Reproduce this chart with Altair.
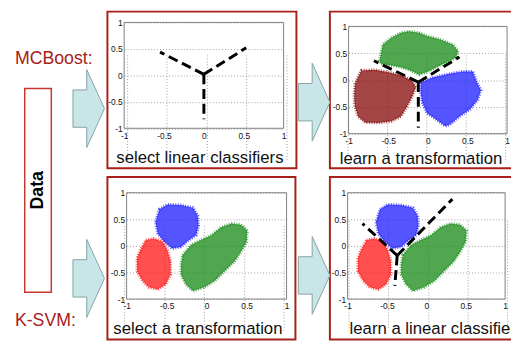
import altair as alt
import pandas as pd

W, H = 511, 338

# ---------------- data (axis units) ----------------
# Panel "learn a transformation" clusters (outlines)
B_green_x = [-0.61, -0.57, -0.46, -0.34, -0.24, -0.11, -0.01, 0.15, 0.32, 0.38, 0.36, 0.24, 0.11, -0.01, -0.11, -0.22, -0.34, -0.46, -0.59]
B_green_y = [0.36, 0.66, 0.79, 0.88, 0.91, 0.88, 0.82, 0.76, 0.66, 0.54, 0.42, 0.33, 0.24, 0.15, 0.10, 0.18, 0.24, 0.27, 0.30]
B_dred_x = [-0.84, -0.67, -0.51, -0.34, -0.20, -0.15, -0.20, -0.26, -0.34, -0.46, -0.63, -0.79, -0.88, -0.92, -0.93, -0.92]
B_dred_y = [0.18, 0.19, 0.15, 0.09, -0.01, -0.13, -0.31, -0.49, -0.68, -0.77, -0.80, -0.79, -0.68, -0.49, -0.31, -0.07]
B_blue_x = [-0.09, 0.07, 0.28, 0.44, 0.57, 0.61, 0.67, 0.63, 0.53, 0.40, 0.28, 0.22, 0.11, -0.01, -0.07, -0.09]
B_blue_y = [-0.04, 0.05, 0.12, 0.16, 0.16, -0.01, -0.19, -0.37, -0.55, -0.68, -0.83, -0.86, -0.74, -0.62, -0.43, -0.25]

# Panels "select a transformation" / "learn a linear classifier" clusters
C_blue_x = [-0.59, -0.49, -0.32, -0.17, -0.11, -0.10, -0.13, -0.22, -0.32, -0.43, -0.53, -0.61, -0.64]
C_blue_y = [0.69, 0.78, 0.77, 0.72, 0.57, 0.38, 0.20, 0.11, -0.02, -0.05, 0.08, 0.23, 0.45]
C_red_x = [-0.76, -0.66, -0.55, -0.49, -0.45, -0.45, -0.51, -0.61, -0.72, -0.80, -0.87, -0.87, -0.83]
C_red_y = [0.11, 0.14, 0.08, -0.08, -0.29, -0.54, -0.72, -0.82, -0.78, -0.66, -0.48, -0.23, -0.08]
C_green_x = [-0.30, -0.19, -0.07, 0.06, 0.18, 0.31, 0.43, 0.51, 0.50, 0.43, 0.35, 0.22, 0.10, -0.03, -0.17, -0.26, -0.32, -0.32]
C_green_y = [-0.17, 0.02, 0.11, 0.20, 0.35, 0.42, 0.40, 0.29, 0.08, -0.11, -0.29, -0.48, -0.66, -0.78, -0.85, -0.72, -0.54, -0.35]

# Linear classifiers (centre, then three arm ends)
A_lines_x = [0.0, -0.55, 0.53, 0.0]
A_lines_y = [0.02, 0.44, 0.52, -0.83]
B_lines_x = [-0.12, -0.68, 0.40, -0.12]
B_lines_y = [-0.04, 0.36, 0.43, -0.89]
D_lines_x = [-0.37, -0.81, 0.33, -0.40]
D_lines_y = [-0.18, 0.42, 0.88, -0.75]

tick_values = [-1, -0.5, 0, 0.5, 1]

# ---------------- texts ----------------
head_texts = ["MCBoost:", "K-SVM:"]
panel_texts = ["select linear classifiers", "learn a transformation",
               "select a transformation", "learn a linear classifier"]

# ---------------- layout (pixels) ----------------
head_pos = [(7, 54), (7, 320)]
panel_text_pos = [(110, 155), (337, 156), (107, 329), (347, 329)]
frames = [(101, 293, 1, 160), (327, 530, 1, 160), (101, 292, 169, 334), (327, 530, 169, 334)]
data_box = (17, 44, 79, 286)
arrow_centres = [(82, 99.5), (82, 272), (311, 93), (311, 269)]
panel_ranges = {
    "A": ([118, 280], [119.5, 12]),
    "B": ([346, 507], [125, 16]),
    "C": ([120.5, 283], [293, 185]),
    "D": ([345, 505], [293, 185]),
}

RED = "#a8201a"
FONT = "Liberation Sans"
ARROW = "M-0.4,-0.475L-0.05,-0.475L-0.05,-0.99L0.4,0L-0.05,0.99L-0.05,0.475L-0.4,0.475Z"


def poly_df(xs, ys):
    return pd.DataFrame({"x": xs, "y": ys, "i": list(range(len(xs)))})


def lines_df(xs, ys):
    rows = []
    for k in range(1, len(xs)):
        rows.append({"x": xs[0], "y": ys[0], "seg": k, "i": 0})
        rows.append({"x": xs[k], "y": ys[k], "seg": k, "i": 1})
    return pd.DataFrame(rows)


def panel(key, polys, lines):
    xr, yr = panel_ranges[key]
    common = dict(values=tick_values, labelExpr="'' + datum.value", ticks=False, domain=False,
                  grid=True, gridDash=[1, 2], gridColor="#8a8a8a", gridWidth=0.8,
                  labelFontSize=8.5, labelColor="#111111", labelFont=FONT,
                  labelFlush=False, labelOverlap=False, title=None)
    xaxis = alt.Axis(orient="bottom", offset=yr[0] - H, labelPadding=3, **common)
    yaxis = alt.Axis(orient="left", offset=-xr[0], labelPadding=2, **common)
    xs = alt.Scale(domain=[-1, 1], range=xr)
    ys = alt.Scale(domain=[-1, 1], range=yr)

    def X(f="x"):
        return alt.X(f + ":Q", scale=xs, axis=xaxis)

    def Y(f="y"):
        return alt.Y(f + ":Q", scale=ys, axis=yaxis)

    layers = []
    frame = pd.DataFrame({"x": [-1], "x2": [1], "y": [-1], "y2": [1]})
    layers.append(alt.Chart(frame).mark_rect(fill="white", stroke="#808080", strokeWidth=1, fillOpacity=0)
                  .encode(x=X(), x2="x2:Q", y=Y(), y2="y2:Q"))
    for xsv, ysv, col in polys:
        layers.append(alt.Chart(poly_df(xsv, ysv)).mark_line(
            interpolate="linear-closed", fill=col, fillOpacity=0.75, stroke=col,
            strokeWidth=3, strokeDash=[1, 1.5], strokeOpacity=0.7)
            .encode(x=X(), y=Y(), order="i:Q"))
    if lines is not None:
        layers.append(alt.Chart(lines_df(*lines)).mark_line(
            color="black", strokeWidth=3, strokeDash=[10, 5])
            .encode(x=X(), y=Y(), detail="seg:N", order="i:Q"))
    return alt.layer(*layers)


GREEN, BLUE, RED_C, DRED = "#168a16", "#1c1cff", "#ff1414", "#850808"

pA = panel("A", [], (A_lines_x, A_lines_y))
pB = panel("B", [(B_green_x, B_green_y, GREEN), (B_dred_x, B_dred_y, DRED), (B_blue_x, B_blue_y, BLUE)],
           (B_lines_x, B_lines_y))
pC = panel("C", [(C_blue_x, C_blue_y, BLUE), (C_red_x, C_red_y, RED_C), (C_green_x, C_green_y, GREEN)], None)
pD = panel("D", [(C_blue_x, C_blue_y, BLUE), (C_red_x, C_red_y, RED_C), (C_green_x, C_green_y, GREEN)],
           (D_lines_x, D_lines_y))

# ---------------- decorations ----------------
def px(f):
    return alt.X(f + ":Q", scale=None, axis=None)


def py(f):
    return alt.Y(f + ":Q", scale=None, axis=None)


frames_df = pd.DataFrame(frames, columns=["x", "x2", "y", "y2"])
frames_layer = alt.Chart(frames_df).mark_rect(fill="white", fillOpacity=0, stroke=RED, strokeWidth=2).encode(
    x=px("x"), x2="x2:Q", y=py("y"), y2="y2:Q")

box_df = pd.DataFrame([data_box], columns=["x", "x2", "y", "y2"])
box_layer = alt.Chart(box_df).mark_rect(fill="white", stroke="#c8372d", strokeWidth=1.5).encode(
    x=px("x"), x2="x2:Q", y=py("y"), y2="y2:Q")

data_txt = alt.Chart(pd.DataFrame({"x": [(data_box[0] + data_box[1]) / 2],
                                   "y": [(data_box[2] + data_box[3]) / 2], "t": ["Data"]})).mark_text(
    angle=270, fontWeight="bold", fontSize=18, font=FONT, color="black", align="center", baseline="middle"
).encode(x=px("x"), y=py("y"), text="t:N")

arrows_df = pd.DataFrame(arrow_centres, columns=["x", "y"])
arrows_layer = alt.Chart(arrows_df).mark_point(
    shape=ARROW, size=6400, filled=True, fill="#c8e5e8", stroke="#86a3a6", strokeWidth=1, opacity=1
).encode(x=px("x"), y=py("y"))

head_df = pd.DataFrame({"x": [p[0] for p in head_pos], "y": [p[1] for p in head_pos], "t": head_texts})
head_layer = alt.Chart(head_df).mark_text(
    fontSize=18, font=FONT, color=RED, align="left", baseline="alphabetic"
).encode(x=px("x"), y=py("y"), text="t:N")

ptxt_df = pd.DataFrame({"x": [p[0] for p in panel_text_pos], "y": [p[1] for p in panel_text_pos],
                        "t": panel_texts})
ptxt_layer = alt.Chart(ptxt_df).mark_text(
    fontSize=17, font=FONT, color="#111111", align="left", baseline="alphabetic"
).encode(x=px("x"), y=py("y"), text="t:N")

chart = alt.layer(
    frames_layer, box_layer, data_txt, arrows_layer, head_layer, ptxt_layer,
    pA, pB, pC, pD
).resolve_scale(x="independent", y="independent").properties(
    width=W, height=H, padding=0, autosize=alt.AutoSizeParams(type="none"), background="white"
).configure_view(stroke="transparent")

chart.save("out.html", embed_options={"renderer": "svg", "actions": False})
